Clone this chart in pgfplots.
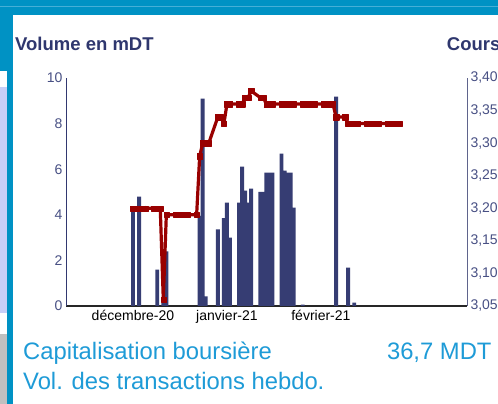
\documentclass[border=0pt]{standalone}
\usepackage{fontspec}
\setmainfont{Liberation Sans}
\usepackage{pgfplots}
\usepackage{pgfplotstable}
\pgfplotsset{compat=1.18}

\definecolor{barnavy}{RGB}{54,61,115}
\definecolor{titlenavy}{RGB}{47,55,110}
\definecolor{ticknavy}{RGB}{72,80,132}
\definecolor{axisnavy}{RGB}{50,56,112}
\definecolor{rightaxis}{RGB}{95,100,140}
\definecolor{pricered}{RGB}{153,0,0}
\definecolor{topblue}{RGB}{0,146,196}
\definecolor{lightline}{RGB}{70,175,215}
\definecolor{lavender}{RGB}{200,207,248}
\definecolor{stripgray}{RGB}{192,192,192}
\definecolor{cyantext}{RGB}{30,155,215}

% day index (0 = start of December), volume in mDT
\pgfplotstableread{
d vol
0 4.30
2 4.80
8 1.60
10 0.15
11 2.40
22 3.95
23 9.10
24 0.42
28 3.36
30 3.85
31 4.53
32 3.00
35 4.53
36 6.11
37 5.06
38 4.53
39 5.15
42 5.00
43 5.00
44 5.85
45 5.85
46 5.85
49 6.68
50 5.94
51 5.85
52 5.85
53 4.31
56 0.06
67 9.18
71 1.68
73 0.15
}\voltable

% day index, share price in DT
\pgfplotstableread{
d price
0 3.20
1 3.20
2 3.20
3 3.20
4 3.20
7 3.20
8 3.20
9 3.20
10 3.06
11 3.19
14 3.19
15 3.19
16 3.19
17 3.19
18 3.19
21 3.19
22 3.28
23 3.30
24 3.30
25 3.30
28 3.34
29 3.34
30 3.33
31 3.36
32 3.36
35 3.36
36 3.36
37 3.37
38 3.37
39 3.38
42 3.37
43 3.37
44 3.36
45 3.36
46 3.36
49 3.36
50 3.36
51 3.36
52 3.36
53 3.36
56 3.36
57 3.36
58 3.36
59 3.36
60 3.36
63 3.36
64 3.36
65 3.36
66 3.36
67 3.34
70 3.34
71 3.33
72 3.33
73 3.33
74 3.33
77 3.33
78 3.33
79 3.33
80 3.33
81 3.33
84 3.33
85 3.33
86 3.33
87 3.33
88 3.33
}\pricetable

\begin{document}
\begin{tikzpicture}
\useasboundingbox (0,0) rectangle (498pt,404pt);
\fill[white] (0,0) rectangle (498pt,404pt);
% frame decorations
\fill[topblue] (0,389pt) rectangle (498pt,404pt);
\draw[lightline, line width=0.8pt] (0,397.3pt) -- (498pt,397.3pt);
\fill[topblue] (0,333pt) rectangle (7.3pt,389pt);
\fill[lavender] (0,91pt) rectangle (7.3pt,316.5pt);
\fill[stripgray] (0,0) rectangle (7.3pt,70pt);
\fill[topblue] (7.3pt,0) rectangle (13.3pt,389pt);

% titles
\node[anchor=base west, inner sep=0pt, text=titlenavy, font=\fontsize{18.5}{20}\selectfont\bfseries] at (15pt,353.3pt) {Volume en mDT};
\node[anchor=base west, inner sep=0pt, text=titlenavy, font=\fontsize{18.5}{20}\selectfont\bfseries] at (446.7pt,353.3pt) {Cours};

\begin{axis}[
  at={(66pt,98pt)}, anchor=south west,
  scale only axis, width=401pt, height=228pt,
  xmin=-22.1, xmax=110.2, ymin=0, ymax=10,
  ytick={0,2,4,6,8,10},
  xtick={0,31,62},
  xticklabels={décembre-20,janvier-21,février-21},
  axis x line=bottom, axis y line=left,
  x axis line style={-, black!85, line width=1.1pt},
  y axis line style={-, axisnavy, line width=0.8pt},
  major tick length=0pt,
  tick style={draw=none},
  /pgf/number format/assume math mode=true,
  yticklabel style={font=\fontsize{14}{16}\selectfont, text=ticknavy},
  xticklabel style={font=\fontsize{14}{16}\selectfont, text=black, yshift=-1pt},
]
\addplot[ybar, bar width=1.3, bar shift=0pt, fill=barnavy, draw=none] table[x=d, y=vol] {\voltable};
\end{axis}

\begin{axis}[
  at={(66pt,98pt)}, anchor=south west,
  scale only axis, width=401pt, height=228pt,
  xmin=-22.1, xmax=110.2, ymin=3.05, ymax=3.40,
  ytick={3.05,3.10,3.15,3.20,3.25,3.30,3.35,3.40},
  axis y line*=right, axis x line=none, xtick=\empty,
  y axis line style={-, rightaxis, line width=0.8pt},
  major tick length=0pt,
  tick style={draw=none},
  /pgf/number format/assume math mode=true,
  yticklabel style={font=\fontsize{14}{16}\selectfont, text=ticknavy,
    /pgf/number format/fixed, /pgf/number format/fixed zerofill,
    /pgf/number format/precision=2, /pgf/number format/use comma},
]
\addplot[pricered, line width=3.2pt, line join=round, mark=square*, mark size=2.6pt,
  mark options={solid, line width=0.3pt, fill=pricered, draw=pricered}]
  table[x=d, y=price] {\pricetable};
\end{axis}

% bottom texts
\node[anchor=base west, inner sep=0pt, text=cyantext, font=\fontsize{23.8}{26}\selectfont] at (23pt,44.7pt) {Capitalisation boursière};
\node[anchor=base east, inner sep=0pt, text=cyantext, font=\fontsize{23.8}{26}\selectfont] at (491.7pt,44.7pt) {36,7 MDT};
\node[anchor=base west, inner sep=0pt, text=cyantext, font=\fontsize{23.8}{26}\selectfont] at (23pt,14.7pt) {Vol. des transactions hebdo.};
\end{tikzpicture}
\end{document}
